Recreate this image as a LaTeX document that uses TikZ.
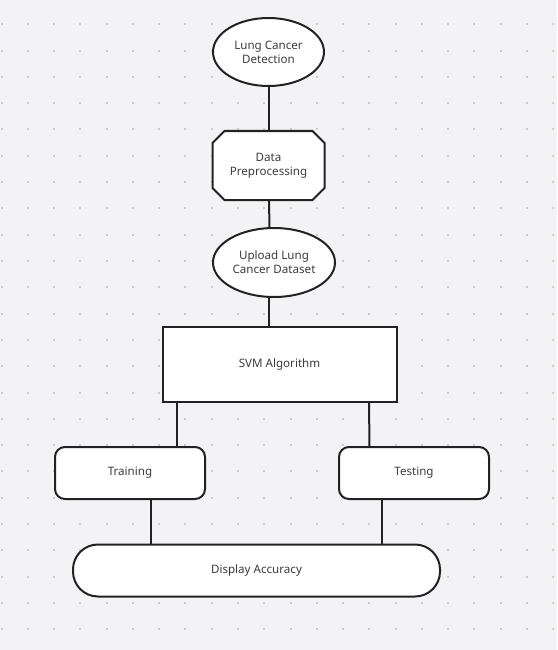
\documentclass[tikz,border=0pt]{standalone}
\usepackage{fontspec}
\setmainfont{Noto Sans}
\usetikzlibrary{shapes.geometric}
\definecolor{bgc}{HTML}{F3F3F5}
\definecolor{dotc}{HTML}{CDCDD1}
\definecolor{linec}{HTML}{222222}
\definecolor{txtc}{HTML}{3C3C3C}
\tikzset{
  base/.style={draw=linec, line width=2pt, fill=white, text=txtc, font=\fontsize{11.6}{14}\selectfont, align=center, inner sep=0pt},
  ellnode/.style={base, ellipse},
  octnode/.style={base, draw=none, fill=none, rectangle},
  boxnode/.style={base, rectangle},
  roundnode/.style={base, rectangle, rounded corners=10pt},
  pillnode/.style={base, rectangle, rounded corners=25pt},
  conn/.style={draw=linec, line width=2pt},
  octline/.style={draw=linec, line width=2pt, fill=white, line join=miter}
}
\begin{document}
\begin{tikzpicture}[x=1pt,y=-1pt]
\fill[bgc] (0,0) rectangle (557,650);
\useasboundingbox (0,0) rectangle (557,650);
\foreach \i in {0,...,21}{
  \foreach \j in {0,...,24}{
    \fill[dotc] ({1.6+26.27*\i-1},{24.3+26.3*\j-1}) rectangle ++(2,2);
  }
}
\node[ellnode, minimum width=111pt, minimum height=68pt] (lcd) at (268.5,52) {Lung Cancer\\Detection};
% octagon outline drawn first, then text node on top
\coordinate (oc) at (268.5,165.5);
\path[octline] ([shift={(-56,-22.5)}]oc) -- ([shift={(-44,-34.5)}]oc) -- ([shift={(44,-34.5)}]oc) -- ([shift={(56,-22.5)}]oc)
  -- ([shift={(56,22.5)}]oc) -- ([shift={(44,34.5)}]oc) -- ([shift={(-44,34.5)}]oc) -- ([shift={(-56,22.5)}]oc) -- cycle;
\node[octnode, minimum width=112pt, minimum height=69pt] (pre) at (oc) {Data\\Preprocessing};
\node[ellnode, minimum width=122pt, minimum height=69pt] (up) at (274,262.5) {Upload Lung\\Cancer Dataset};
\node[boxnode, minimum width=234pt, minimum height=75pt] (svm) at (279.5,364) {SVM Algorithm};
\node[roundnode, minimum width=150pt, minimum height=52pt] (train) at (130,473) {Training};
\node[roundnode, minimum width=150pt, minimum height=52pt] (test) at (414,473) {Testing};
\node[pillnode, minimum width=367pt, minimum height=52pt] (acc) at (256.5,570.5) {Display Accuracy};
\draw[conn] (lcd.south) -- (pre.north);
\draw[conn] ([xshift=0.5pt]pre.south) -- ([xshift=-4.5pt]up.north);
\draw[conn] ([xshift=-5pt]up.south) -- ([xshift=-10.5pt]svm.north);
\draw[conn] ([xshift=-102.5pt]svm.south) -- ([xshift=47pt]train.north);
\draw[conn] ([xshift=89.5pt]svm.south) -- ([xshift=-44.5pt]test.north);
\draw[conn] ([xshift=21pt]train.south) -- ([xshift=-105.5pt]acc.north);
\draw[conn] ([xshift=-32.5pt]test.south) -- ([xshift=125pt]acc.north);
\end{tikzpicture}
\end{document}
